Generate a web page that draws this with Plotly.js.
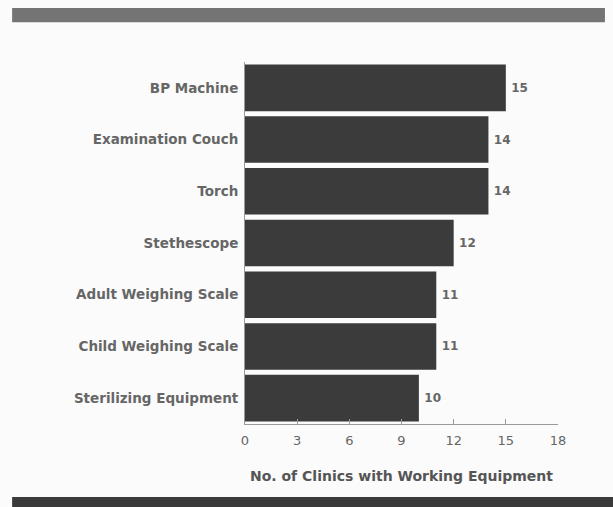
<!DOCTYPE html>
<html>
<head>
<meta charset="utf-8">
<script src="https://cdn.plot.ly/plotly-3.0.1.min.js"></script>
<style>html,body{margin:0;padding:0;background:#fbfbfb;}</style>
</head>
<body>
<div id="chart" style="width:613px;height:507px;"></div>
<script>
var categories = ["BP Machine", "Examination Couch", "Torch", "Stethescope", "Adult Weighing Scale", "Child Weighing Scale", "Sterilizing Equipment"];
var clinics = [15, 14, 14, 12, 11, 11, 10];
var tickVals = [0, 3, 6, 9, 12, 15, 18];

var trace = {
  type: 'bar',
  orientation: 'h',
  x: clinics,
  y: categories,
  marker: {color: '#3b3b3b', line: {width: 0}},
  text: clinics.map(function (v) { return '\u2009' + v; }),
  textposition: 'outside',
  cliponaxis: false,
  textfont: {family: 'DejaVu Sans, sans-serif', size: 12, color: '#666', weight: 'bold'},
  hoverinfo: 'none'
};

var layout = {
  width: 613, height: 507,
  paper_bgcolor: '#fbfbfb', plot_bgcolor: '#fbfbfb',
  margin: {l: 245, r: 55, t: 62, b: 83},
  showlegend: false,
  bargap: 0.1,
  font: {family: 'DejaVu Sans, sans-serif', color: '#666'},
  xaxis: {
    range: [0, 18], tickvals: tickVals, ticktext: tickVals.map(String),
    showgrid: false, zeroline: false,
    showline: true, linecolor: '#999', linewidth: 1,
    ticks: 'inside', ticklen: 5, tickcolor: '#999',
    ticklabelstandoff: 4,
    tickfont: {size: 13, color: '#666'},
    title: {text: 'No. of Clinics with Working Equipment', font: {size: 14, color: '#555', weight: 'bold'}, standoff: 24}
  },
  yaxis: {
    autorange: 'reversed', showgrid: false, zeroline: false,
    showline: true, linecolor: '#999', linewidth: 1,
    ticks: '', ticklabelstandoff: 3,
    tickfont: {size: 13.5, color: '#666', weight: 'bold'}
  },
  shapes: [
    {type: 'rect', xref: 'paper', yref: 'paper', x0: -0.744, x1: 1.150, y0: 1.110, y1: 1.149, fillcolor: '#747474', line: {width: 0}, layer: 'below'},
    {type: 'rect', xref: 'paper', yref: 'paper', x0: -0.744, x1: 1.176, y0: -0.240, y1: -0.2017, fillcolor: '#3a3a3a', line: {width: 0}, layer: 'below'}
  ]
};

Plotly.newPlot('chart', [trace], layout, {displayModeBar: false, staticPlot: true});
</script>
</body>
</html>
